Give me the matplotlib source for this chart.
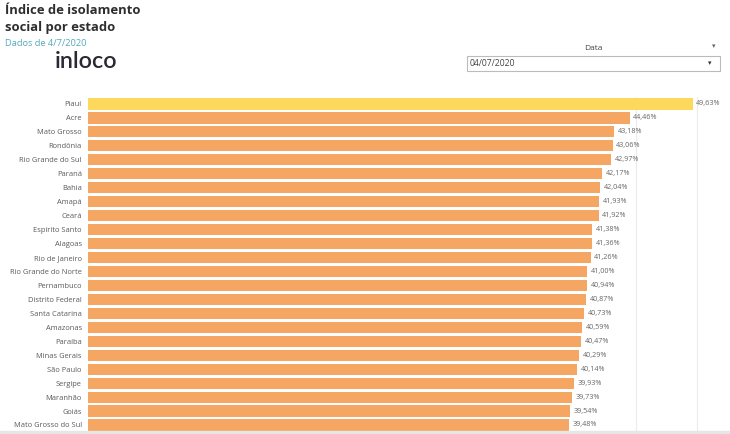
import matplotlib
matplotlib.use("Agg")
from matplotlib import pyplot as plt
from matplotlib.patches import Rectangle

plt.rcParams['font.family'] = ['Open Sans', 'DejaVu Sans']

estados = ['Piauí', 'Acre', 'Mato Grosso', 'Rondônia', 'Rio Grande do Sul', 'Paraná',
           'Bahia', 'Amapá', 'Ceará', 'Espírito Santo', 'Alagoas', 'Rio de Janeiro',
           'Rio Grande do Norte', 'Pernambuco', 'Distrito Federal', 'Santa Catarina',
           'Amazonas', 'Paraíba', 'Minas Gerais', 'São Paulo', 'Sergipe', 'Maranhão',
           'Goiás', 'Mato Grosso do Sul']
isolamento = [49.63, 44.46, 43.18, 43.06, 42.97, 42.17, 42.04, 41.93, 41.92, 41.38,
              41.36, 41.26, 41.00, 40.94, 40.87, 40.73, 40.59, 40.47, 40.29, 40.14,
              39.93, 39.73, 39.54, 39.48]
destaque = 'Piauí'
grade = [45, 50]

W, H = 730, 434
fig = plt.figure(figsize=(W / 100, H / 100), dpi=100)

# area do grafico: x de 88 a 730 px, y de 97 a 431 px
ax = fig.add_axes([88 / W, 3 / H, (W - 88) / W, 334 / H])
cores = ['#fcd85c' if e == destaque else '#f4a662' for e in estados]
ypos = list(range(len(estados)))
ax.barh(ypos, isolamento, height=0.8, color=cores, zorder=2)
for g in grade:
    ax.axvline(g, color='#ececec', lw=0.8, zorder=1)
for y, v in zip(ypos, isolamento):
    ax.text(v + 0.3, y, f'{v:.2f}%'.replace('.', ','), va='center', ha='left',
            fontsize=5.2, color='#666666')
ax.set_xlim(0, 52.7)
ax.set_ylim(23.43, -0.5)
ax.set_yticks(ypos)
ax.set_yticklabels(estados, fontsize=5.4, color='#5a5a5a')
ax.tick_params(axis='y', length=0, pad=4.5)
ax.set_xticks([])
for s in ax.spines.values():
    s.set_visible(False)

# faixa cinza no rodape
fig.patches.append(Rectangle((0, 0), 1, 3 / H, transform=fig.transFigure,
                             color='#e6e6e6', zorder=0))

# cabecalho
fig.text(5 / W, 1 - 10 / H, 'Índice de isolamento', fontsize=9.4, fontweight='bold',
         color='#2e2e2e', va='center')
fig.text(5 / W, 1 - 28 / H, 'social por estado', fontsize=9.4, fontweight='bold',
         color='#2e2e2e', va='center')
fig.text(5 / W, 1 - 44 / H, 'Dados de 4/7/2020', fontsize=6.7, color='#55aabb', va='center')
fig.text(55 / W, 1 - 61 / H, 'inloco', fontsize=16.8, fontweight='semibold',
         color='#2a2a35', va='center', family=['Lato', 'DejaVu Sans'])

# filtro de data
fig.text(593 / W, 1 - 48 / H, 'Data', fontsize=6, color='#444444', va='center', ha='center')
fig.text(714 / W, 1 - 46 / H, '▾', fontsize=5, color='#666666', va='center', ha='center',
         family=['DejaVu Sans'])
fig.patches.append(Rectangle((467 / W, 1 - 71 / H), 253 / W, 15 / H, transform=fig.transFigure,
                             facecolor='white', edgecolor='#bbbbbb', lw=0.8))
fig.text(470 / W, 1 - 63.5 / H, '04/07/2020', fontsize=6.2, color='#444444', va='center')
fig.text(710 / W, 1 - 63.5 / H, '▾', fontsize=5, color='#333333', va='center', ha='center',
         family=['DejaVu Sans'])

fig.savefig('out.png', dpi=100)
